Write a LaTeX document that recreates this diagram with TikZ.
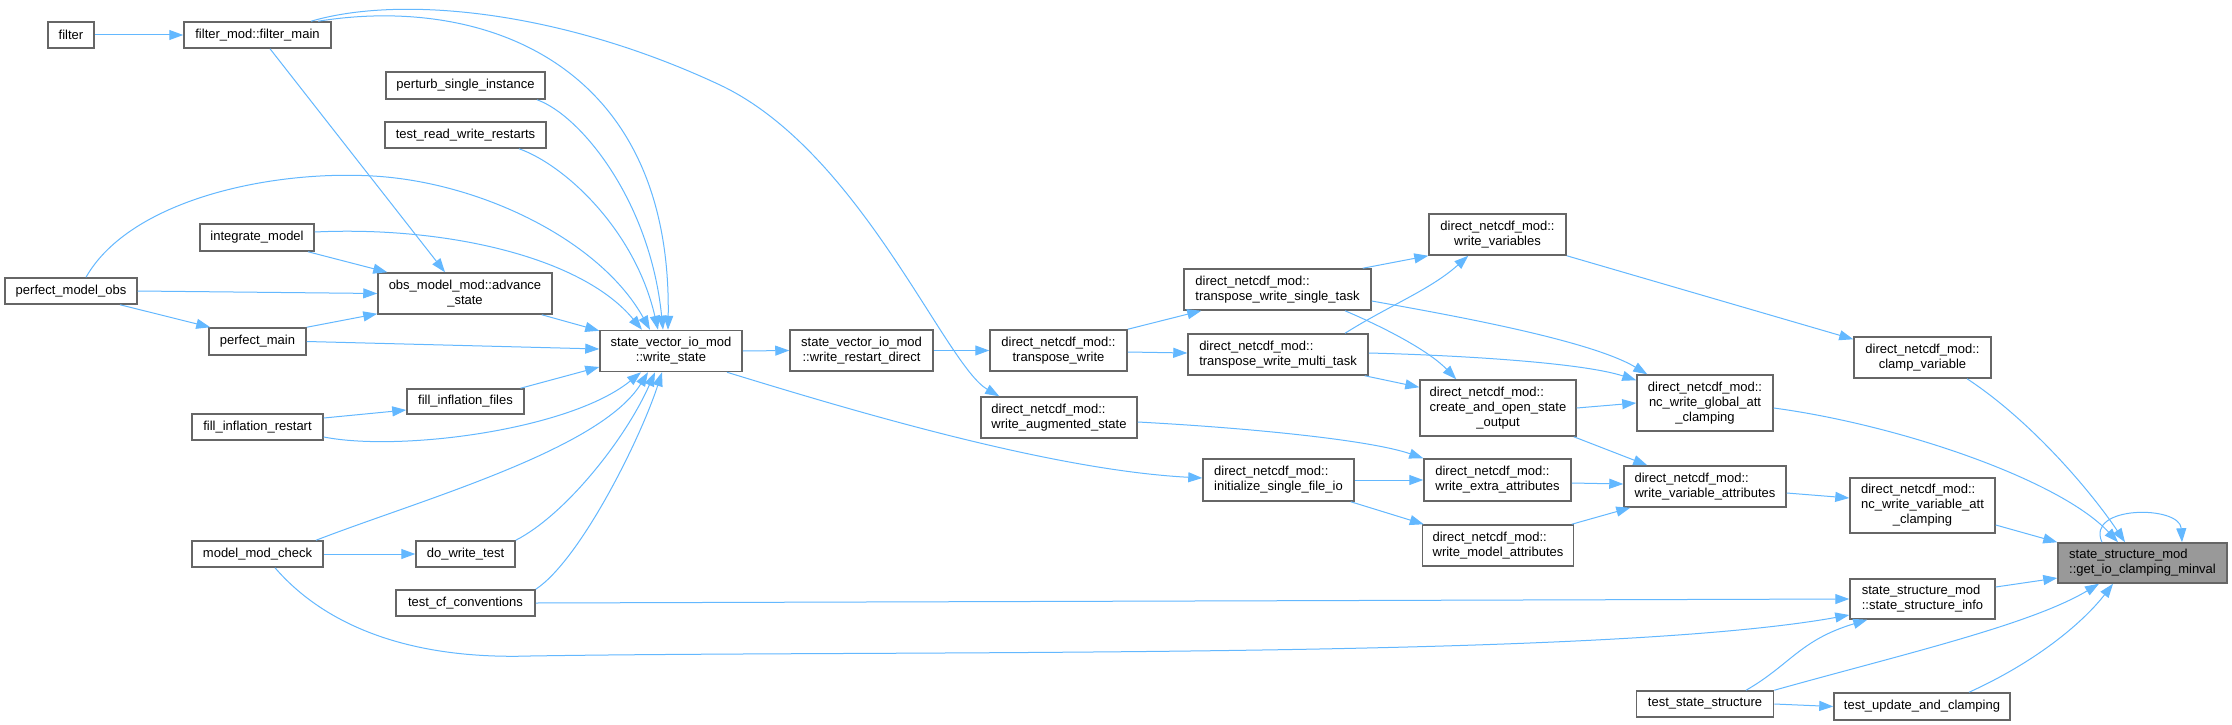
\documentclass[tikz,border=0pt]{standalone}
\usepackage{fontspec}
\setmainfont{Liberation Sans}
\usetikzlibrary{arrows.meta}
\definecolor{edgeblue}{HTML}{63B8FF}
\definecolor{boxline}{HTML}{666666}
\definecolor{focusfill}{HTML}{999999}
\newcommand{\lft}[2]{\begin{tabular}{@{}c@{}}\multicolumn{1}{@{}l@{}}{#1}\\#2\end{tabular}}
\newcommand{\ctr}[1]{\begin{tabular}{@{}c@{}}#1\end{tabular}}
\tikzset{
  fnode/.style={draw=boxline, line width=1.5pt, fill=white, inner sep=0pt,
    font=\fontsize{13}{15}\selectfont, text=black},
  focus/.style={fnode, fill=focusfill},
  conn/.style={draw=edgeblue, line width=1pt, -{Triangle[length=14pt,width=10pt]}}
}
\newcommand{\bx}[6][fnode]{\node[#1, minimum width=#4, minimum height=#5] (#2) at (#3) {#6};}
\begin{document}
\begin{tikzpicture}[x=1pt,y=-1pt]
\fill[white] (0,0) rectangle (2232,725);
\useasboundingbox (0,0) rectangle (2232,725);
% nodes
\bx{filter}{71,35}{46}{26}{filter}
\bx{fmain}{257.5,35}{147}{26}{filter\_mod::filter\_main}
\bx{perturb}{465.5,85.5}{159}{27}{perturb\_single\_instance}
\bx{trwr}{465.5,135}{161}{26}{test\_read\_write\_restarts}
\bx{integ}{257,237.5}{114}{27}{integrate\_model}
\bx{pmo}{71,291}{132}{26}{perfect\_model\_obs}
\bx{adv}{465,293.5}{174}{41}{\ctr{obs\_model\_mod::advance\\\_state}}
\bx{pmain}{257.5,341.5}{97}{27}{perfect\_main}
\bx{ws}{671,351}{142}{41}{\ctr{state\_vector\_io\_mod\\::write\_state}}
\bx{fif}{465.5,401.5}{117}{25}{fill\_inflation\_files}
\bx{fir}{257.5,427}{131}{26}{fill\_inflation\_restart}
\bx{mmc}{257.5,554}{131}{26}{model\_mod\_check}
\bx{dwt}{465.5,554}{99}{26}{do\_write\_test}
\bx{tcf}{465.5,603}{139}{26}{test\_cf\_conventions}
\bx{wrd}{861.5,350.5}{143}{41}{\lft{state\_vector\_io\_mod}{::write\_restart\_direct}}
\bx{tw}{1058.5,350.5}{137}{41}{\lft{direct\_netcdf\_mod::}{transpose\_write}}
\bx{twst}{1277.5,289.5}{187}{41}{\lft{direct\_netcdf\_mod::}{transpose\_write\_single\_task}}
\bx{twmt}{1278,354.5}{180}{41}{\lft{direct\_netcdf\_mod::}{transpose\_write\_multi\_task}}
\bx{was}{1059,417.5}{156}{41}{\lft{direct\_netcdf\_mod::}{write\_augmented\_state}}
\bx{isfi}{1278.5,480}{151}{42}{\lft{direct\_netcdf\_mod::}{initialize\_single\_file\_io}}
\bx{wv}{1497.5,234.5}{137}{41}{\lft{direct\_netcdf\_mod::}{write\_variables}}
\bx{caoso}{1498,408}{156}{56}{\lft{direct\_netcdf\_mod::}{create\_and\_open\_state\\\_output}}
\bx{wea}{1497.5,480}{147}{42}{\lft{direct\_netcdf\_mod::}{write\_extra\_attributes}}
\bx{wma}{1498,545.5}{151}{41}{\lft{direct\_netcdf\_mod::}{write\_model\_attributes}}
\bx{ncg}{1705,403}{136}{56}{\lft{direct\_netcdf\_mod::}{nc\_write\_global\_att\\\_clamping}}
\bx{wva}{1705,486.5}{162}{41}{\lft{direct\_netcdf\_mod::}{write\_variable\_attributes}}
\bx{cv}{1922.5,357.5}{137}{41}{\lft{direct\_netcdf\_mod::}{clamp\_variable}}
\bx{ncv}{1922.5,505.5}{145}{55}{\lft{direct\_netcdf\_mod::}{nc\_write\_variable\_att\\\_clamping}}
\bx[focus]{gio}{2142.5,563}{169}{40}{\lft{state\_structure\_mod}{::get\_io\_clamping\_minval}}
\bx{ssi}{1922.5,599}{145}{40}{\lft{state\_structure\_mod}{::state\_structure\_info}}
\bx{tss}{1705,704}{137}{26}{test\_state\_structure}
\bx{tuc}{1922,706.5}{176}{27}{test\_update\_and\_clamping}
% connectors
\draw[conn] (filter.east) -- (fmain.west);
\draw[conn] ([xshift=60.5]fmain.north) .. controls (480,-5) and (672,60) .. ([xshift=-3]ws.north);
\draw[conn] ([xshift=53.5]fmain.north) .. controls (400,-5) and (560,10) .. (720,85)
   .. controls (860,151) and (945,365) .. ([xshift=19]was.north west);
\draw[conn] ([xshift=12.5]fmain.south) -- ([xshift=-20]adv.north);
\draw[conn] ([xshift=71.5]perturb.south) .. controls (580,115) and (650,200) .. ([xshift=-8]ws.north);
\draw[conn] ([xshift=53.5]trwr.south) .. controls (565,165) and (635,230) .. ([xshift=-13]ws.north);
\draw[conn] ([xshift=15]pmo.north) .. controls (130,200) and (270,170) .. (373,176)
   .. controls (480,182) and (600,240) .. ([xshift=-21]ws.north);
\draw[conn] ([yshift=5.5]integ.east) .. controls (440,226) and (580,255) .. ([xshift=-29]ws.north);
\draw[conn] ([xshift=51]integ.south) -- ([xshift=10]adv.north west);
\draw[conn] (pmo.east) -- (adv.west);
\draw[conn] ([xshift=49]pmo.south) -- ([xshift=2]pmain.north west);
\draw[conn] (pmain.north east) -- ([yshift=1]adv.south west);
\draw[conn] (pmain.east) -- ([yshift=2]ws.west);
\draw[conn] ([xshift=-11]adv.south east) -- ([yshift=-1]ws.north west);
\draw[conn] ([xshift=55]fif.north) -- ([yshift=-16]ws.west);
\draw[conn] ([yshift=9]fir.east) -- ([yshift=-8.5]fif.west);
\draw[conn] ([yshift=-10]fir.east) .. controls (400,452) and (570,430) .. ([xshift=-30]ws.south);
\draw[conn] ([xshift=58.5]mmc.north) .. controls (420,500) and (600,450) .. ([xshift=-23]ws.south);
\draw[conn] (mmc.east) -- (dwt.west);
\draw[conn] (dwt.north east) .. controls (565,515) and (625,440) .. ([xshift=-16]ws.south);
\draw[conn] (tcf.north east) .. controls (580,560) and (640,440) .. ([xshift=-9]ws.south);
\draw[conn] (tcf.east) -- (ssi.west);
\draw[conn] ([xshift=17.5]mmc.south) .. controls (320,620) and (400,660) .. (530,656)
   .. controls (900,650) and (1600,660) .. ([yshift=-16]ssi.west);
\draw[conn] (ws.east) -- (wrd.west);
\draw[conn] ([xshift=56]ws.south) .. controls (850,410) and (1050,470) .. ([yshift=2]isfi.west);
\draw[conn] (wrd.east) -- (tw.west);
\draw[conn] (tw.north east) -- ([xshift=18]twst.south west);
\draw[conn] ([yshift=-1.5]tw.east) -- ([yshift=1.5]twmt.west);
\draw[conn] ([xshift=-9]twst.north east) -- (wv.south west);
\draw[conn] ([yshift=-11.5]twst.east) .. controls (1450,315) and (1590,340) .. ([xshift=11]ncg.north west);
\draw[conn] ([xshift=67.5]twst.south) .. controls (1390,330) and (1430,352) .. ([xshift=37]caoso.north west);
\draw[conn] ([xshift=67]twmt.north) .. controls (1390,305) and (1430,290) .. ([xshift=40]wv.south west);
\draw[conn] ([yshift=1.5]twmt.east) .. controls (1450,355) and (1580,362) .. ([yshift=-6]ncg.north west);
\draw[conn] ([xshift=-4]twmt.south east) -- ([yshift=-8]caoso.north west);
\draw[conn] ([yshift=-4.5]was.east) .. controls (1250,428) and (1370,440) .. (wea.north west);
\draw[conn] (isfi.east) -- (wea.west);
\draw[conn] ([xshift=-4]isfi.south east) -- ([xshift=2]wma.north west);
\draw[conn] (wv.south east) -- ([yshift=-3]cv.north west);
\draw[conn] (caoso.east) -- (ncg.west);
\draw[conn] ([xshift=-3]caoso.south east) -- ([xshift=24]wva.north west);
\draw[conn] ([yshift=-3]wea.east) -- ([yshift=2.5]wva.west);
\draw[conn] ([xshift=-2.5]wma.north east) -- ([xshift=7]wva.south west);
\draw[conn] ([yshift=-5]ncg.east) .. controls (1900,425) and (2060,480) .. ([xshift=-24.5]gio.north);
\draw[conn] ([xshift=44.5]cv.south) .. controls (2030,420) and (2090,490) .. ([xshift=-17.5]gio.north);
\draw[conn] ([yshift=-6.5]wva.east) -- ([yshift=7.5]ncv.west);
\draw[conn] ([yshift=-19.5]ncv.east) -- (gio.north west);
\draw[conn] ([xshift=-40.5]gio.north) .. controls (2085,505) and (2180,505) .. ([xshift=39.5]gio.north);
\draw[conn] ([yshift=12]ssi.east) -- ([yshift=-15]gio.west);
\draw[conn] ([xshift=41]tss.north) .. controls (1790,665) and (1800,640) .. ([xshift=18]ssi.south west);
\draw[conn] (tss.north east) .. controls (1900,655) and (2030,625) .. ([xshift=-43.5]gio.south);
\draw[conn] (tss.east) -- (tuc.west);
\draw[conn] ([xshift=47]tuc.north) .. controls (2040,660) and (2085,620) .. ([xshift=-29.5]gio.south);
\end{tikzpicture}
\end{document}
